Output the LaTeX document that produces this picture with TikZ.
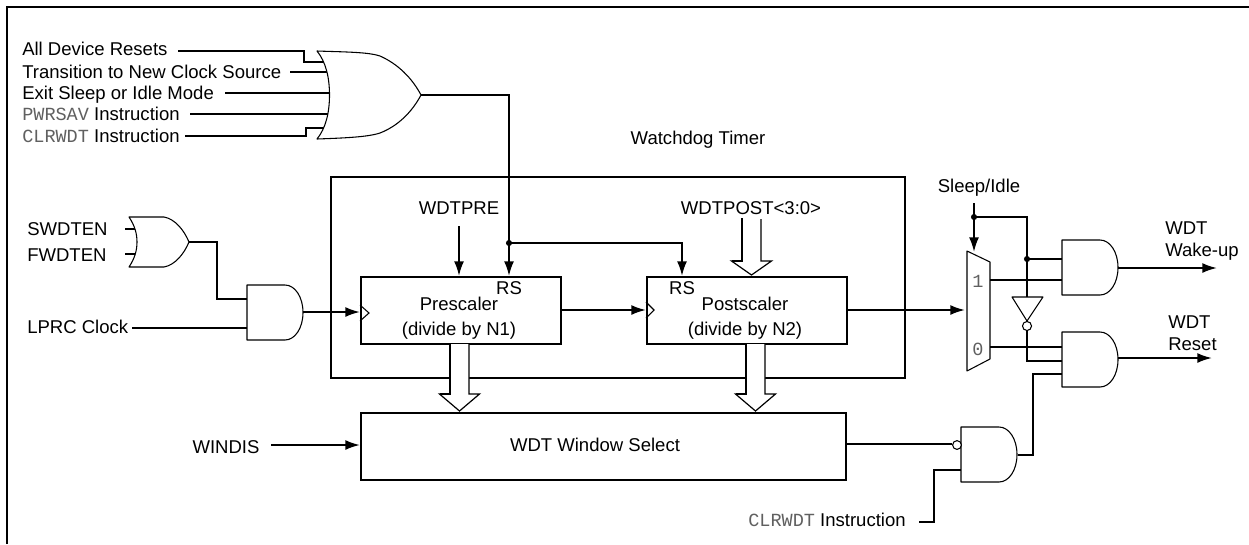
\documentclass[tikz,border=0pt]{standalone}
\usepackage{fontspec}
\setmainfont{Liberation Sans}
\setmonofont{Liberation Mono}
\usetikzlibrary{arrows.meta}
\definecolor{monogray}{HTML}{606060}
\newcommand{\cw}[1]{{\ttfamily\color{monogray}#1}}
\tikzset{
  x=0.75pt,y=-0.75pt,
  wire/.style={line width=1.5pt,line join=miter},
  arr/.style={wire,-{Latex[length=11pt,width=7.5pt]}},
  frameline/.style={line width=1.5pt},
  boxnode/.style={draw,line width=1.5pt,inner sep=0pt,align=center,anchor=north west},
  thin gate/.style={line width=0.8pt,fill=white,line join=round},
  label/.style={inner sep=0pt,font=\fontsize{13.9}{16}\selectfont,text height=0.72em,text depth=0pt,yshift=-1.8pt},
  lw/.style={label,anchor=west},
  lc/.style={label,anchor=center},
  gatebox/.style={inner sep=0pt,outer sep=0pt,minimum width=42pt,minimum height=41.25pt},
  dot/.style={circle,fill=black,inner sep=0pt,minimum size=4.6pt},
  bubble/.style={circle,draw,fill=white,line width=0.8pt,inner sep=0pt,minimum size=6.8pt},
  hollow/.style={line width=0.9pt,fill=white,line join=miter},
}
% AND gate: invisible node gives the anchors, outline drawn around it
\newcommand{\andgate}[3]{%
  \node[gatebox] (#1) at (#2+28,#3+27.5) {};
  \draw[thin gate] (#2,#3) -- (#2+38,#3) .. controls (#2+48,#3) and (#2+56,#3+12) .. (#2+56,#3+27.5)
     .. controls (#2+56,#3+43) and (#2+48,#3+55) .. (#2+38,#3+55) -- (#2,#3+55) -- cycle;}
% hollow bus arrow: centre x, y of shaft top, y of head base, y of tip
\newcommand{\busarrow}[4]{%
  \draw[hollow] (#1-9.5,#2) -- (#1-9.5,#3) -- (#1-20,#3) -- (#1,#4) -- (#1+20,#3) -- (#1+9.5,#3) -- (#1+9.5,#2);
  \draw[frameline,line cap=rect] (#1-9.5,#2) -- (#1-9.5,#3) -- (#1-19,#3);}
\begin{document}
\begin{tikzpicture}
\useasboundingbox (0,0) rectangle (1249,544);
\fill[white] (0,0) rectangle (1249,544);
% frame
\coordinate (fbl) at (7,544);
\coordinate (ftl) at (7,7);
\coordinate (ftr) at (1249,7);
\draw[frameline] (fbl) -- (ftl) -- (ftr);

% watchdog box
\node[boxnode,minimum width=430.5pt,minimum height=150.75pt] (wdt) at (330,176) {};
\node[lc] (wdtlabel) at (698,137) {Watchdog Timer};

% blocks
\node[boxnode,minimum width=150pt,minimum height=50.25pt,fill=white] (pre) at (360,276) {};
\node[boxnode,minimum width=150pt,minimum height=50.25pt,fill=white] (post) at (646,276) {};
\node[boxnode,minimum width=363.75pt,minimum height=50.25pt,fill=white] (win) at (360,412) {};
\node[lc] (wintext) at (595,444) {WDT Window Select};
\node[lc] (pretext1) at (459,303) {Prescaler};
\node[lc] (pretext2) at (459,328) {(divide by N1)};
\node[lc] (posttext1) at (745,303) {Postscaler};
\node[lc] (posttext2) at (745,328) {(divide by N2)};
\node[lc] (rs1) at (509,287) {RS};
\node[lc] (rs2) at (682,287) {RS};

% clock triangles
\coordinate (ck1a) at (360,305); \coordinate (ck1b) at (369,313); \coordinate (ck1c) at (360,321);
\coordinate (ck2a) at (646,302); \coordinate (ck2b) at (654,310); \coordinate (ck2c) at (646,318);
\draw[line width=0.8pt] (ck1a) -- (ck1b) -- (ck1c);
\draw[line width=0.8pt] (ck2a) -- (ck2b) -- (ck2c);

% top-left labels
\node[lw] (l1) at (22,48.5) {All Device Resets};
\node[lw] (l2) at (22,71) {Transition to New Clock Source};
\node[lw] (l3) at (22,92) {Exit Sleep or Idle Mode};
\node[lw] (l4) at (22,113) {\cw{PWRSAV} Instruction};
\node[lw] (l5) at (22,135) {\cw{CLRWDT} Instruction};

% big OR gate
\coordinate (bigout) at (421,95);
\foreach \n/\y in {i1/62,i2/72,i3/93,i4/114,i5/128}{\coordinate (\n) at (329,\y);}
\coordinate (s1) at (178,51);\coordinate (s2) at (290,72);\coordinate (s3) at (225,93);\coordinate (s4) at (190,114);\coordinate (s5) at (185,136);
\draw[wire] (s1) -- (304,51) |- (i1);
\draw[wire] (s2) -- (i2);
\draw[wire] (s3) -- (i3);
\draw[wire] (s4) -- (i4);
\draw[wire] (s5) -- (306,136) |- (i5);
\draw[thin gate] (317,51) .. controls (345,52) and (368,52) .. (380,56)
  .. controls (398,64) and (412,78) .. (bigout)
  .. controls (412,112) and (398,126) .. (380,133)
  .. controls (368,137) and (345,138) .. (317,139)
  .. controls (326,128) and (329.5,112) .. (329.5,95)
  .. controls (329.5,78) and (326,62) .. (317,51) -- cycle;

% small OR gate and AND
\node[lw] (sw) at (27,228) {SWDTEN};
\node[lw] (fw) at (27,254) {FWDTEN};
\node[lw] (lp) at (27,326) {LPRC Clock};
\coordinate (sws) at (125,229);\coordinate (fws) at (125,254);
\coordinate (swe) at (136,229);\coordinate (fwe) at (136,254);
\coordinate (smallout) at (189,242);
\draw[wire] (sws) -- (swe);
\draw[wire] (fws) -- (fwe);
\draw[thin gate] (129,217) -- (164,217) .. controls (175,219) and (184,230) .. (smallout)
  .. controls (184,254) and (175,265) .. (164,267) -- (129,267)
  .. controls (135,258) and (137,250) .. (137,242) .. controls (137,234) and (135,226) .. (129,217) -- cycle;

\andgate{andclk}{247}{285}
\coordinate (lps) at (132,328);
\coordinate (clkpin) at (247,299);
\coordinate (clkout) at (303,312);
\draw[wire] (smallout) -- (217,242) |- (clkpin);
\draw[wire] (lps) -- (andclk.west |- lps);
\draw[arr] (clkout) -- (pre.west |- clkout);

% reset distribution
\coordinate (rsj) at (509,243);
\coordinate (pretop) at (509,276);
\coordinate (posttop) at (682,276);
\draw[wire] (bigout) -- (509,95) -- (rsj);
\draw[arr] (rsj) -- (pretop);
\draw[arr] (rsj) -| (posttop);
\node[dot] (rsdot) at (rsj) {};

% WDTPRE
\node[lc] (wpre) at (459,207) {WDTPRE};
\coordinate (wpres) at (459,226);
\draw[arr] (wpres) -- (pre.north -| wpres);

% WDTPOST bus
\node[lc] (wpost) at (751,207) {WDTPOST<3:0>};
\busarrow{751.5}{219}{261}{275}

% bus arrows to window select
\busarrow{459.5}{344}{394}{411}
\busarrow{755.5}{344}{394}{411}

% prescaler -> postscaler
\coordinate (postin) at (646,310);
\draw[arr] (pre.east |- postin) -- (postin);

% WINDIS
\node[lc] (windis) at (226,446) {WINDIS};
\coordinate (wins) at (271,445);
\draw[arr] (wins) -- (win.west |- wins);

% mux
\coordinate (m1) at (967,251);\coordinate (m2) at (990,262);\coordinate (m3) at (990,359);\coordinate (m4) at (967,371);
\draw[thin gate] (m1) -- (m2) -- (m3) -- (m4) -- cycle;
\node[lc,font=\fontsize{13.9}{16}\selectfont\ttfamily,text=monogray] (m1lab) at (978,280) {1};
\node[lc,font=\fontsize{13.9}{16}\selectfont\ttfamily,text=monogray] (m0lab) at (978,348) {0};
\coordinate (muxin) at (965,310);
\draw[arr] (post.east |- muxin) -- (muxin);

% sleep
\node[lc] (sleep) at (979,185) {Sleep/Idle};
\coordinate (sls) at (974,203);
\coordinate (slj) at (974,217);
\coordinate (slm) at (974,252);
\draw[wire] (sls) -- (slj);
\draw[arr] (slj) -- (slm);

% output ANDs
\andgate{andw}{1062}{240}
\andgate{andr}{1062}{332}
\andgate{andc}{961}{427}

% inverter
\coordinate (inva) at (1012,297);\coordinate (invb) at (1043,297);\coordinate (invc) at (1027,321);
\coordinate (invtop) at (1027,297);
\coordinate (wj) at (1027,259);
\draw[wire] (slj) -| (invtop);
\draw[wire] (wj) -- (andw.west |- wj);
\coordinate (m1out) at (990,280);
\draw[wire] (m1out) -- (andw.west |- m1out);
\draw[thin gate] (inva) -- (invb) -- (invc) -- cycle;
\node[bubble] (invb2) at (1027,326) {};
\coordinate (rpin2) at (1062,361);
\draw[wire] (invb2.south) |- (rpin2);
\coordinate (m0out) at (990,347);
\draw[wire] (m0out) -- (andr.west |- m0out);
\node[dot] (sldot) at (slj) {};
\node[dot] (wdot) at (wj) {};

% outputs
\coordinate (wout) at (1217,268);
\coordinate (rout) at (1212,358);
\draw[arr] (andw.east |- wout) -- (wout);
\draw[arr] (andr.east |- rout) -- (rout);
\node[lw] (wake1) at (1165,227) {WDT};
\node[lw] (wake2) at (1165,249) {Wake-up};
\node[lw] (res1) at (1168,321) {WDT};
\node[lw] (res2) at (1168,343) {Reset};

% window select -> gate
\node[bubble,minimum size=6.6pt] (cb) at (957,445) {};
\coordinate (wins2) at (847,444);
\draw[wire] (wins2) -- (cb.west |- wins2);
\coordinate (rpin3) at (1062,374);
\coordinate (andco) at (1018,455);
\draw[wire] (andco) -- (1033,455) |- (rpin3);

% CLRWDT lower
\node[lw] (cl2) at (748,519) {\cw{CLRWDT} Instruction};
\coordinate (cls) at (919,522);
\coordinate (clpin) at (961,470);
\draw[wire] (cls) -| (934,470) -- (clpin);
\end{tikzpicture}
\end{document}
